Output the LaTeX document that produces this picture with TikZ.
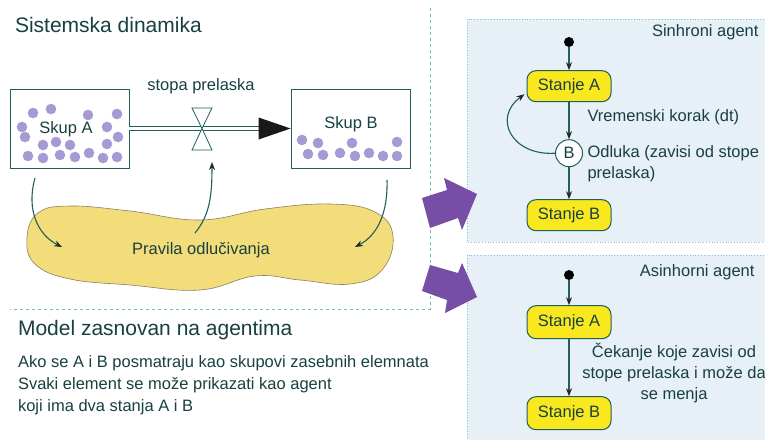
\documentclass[tikz,border=0pt]{standalone}
\usepackage{fontspec}
\setmainfont{Liberation Sans}
\usetikzlibrary{shapes,arrows.meta,positioning,calc}
\definecolor{inkteal}{RGB}{24,64,64}
\definecolor{lineteal}{RGB}{32,95,92}
\definecolor{dotlilac}{RGB}{165,154,212}
\definecolor{blobyellow}{RGB}{243,220,122}
\definecolor{blobedge}{RGB}{140,128,95}
\definecolor{stateyellow}{RGB}{250,232,30}
\definecolor{panelblue}{RGB}{231,239,247}
\definecolor{paneledge}{RGB}{125,200,215}
\definecolor{arrowpurple}{RGB}{118,78,165}
\definecolor{dividerteal}{RGB}{110,190,200}

\begin{document}
\begin{tikzpicture}[
    x=1pt, y=-1pt,
    every node/.style={text=inkteal, font=\fontsize{16.5}{21}\selectfont},
    heading/.style={font=\fontsize{21}{25}\selectfont, anchor=west},
    skup/.style={rectangle, draw=lineteal, line width=0.8pt, fill=white, minimum width=119pt, minimum height=79pt},
    ball/.style={fill=dotlilac},
    pipe/.style={draw=lineteal, double=white, double distance=2.8pt, line width=0.8pt},
    valve/.style={draw=lineteal, fill=white, line width=0.8pt},
    blob/.style={fill=blobyellow, draw=blobedge, line width=0.6pt},
    arrow/.style={->, >={Stealth[length=8pt, width=6pt, color=black!85]}, draw=lineteal, line width=1.1pt},
    panel/.style={fill=panelblue, draw=paneledge, dotted, line width=0.8pt},
    stanje/.style={rectangle, rounded corners=9pt, draw=lineteal, fill=stateyellow, line width=1pt, minimum width=84pt, minimum height=31pt},
    initdot/.style={circle, fill=black, inner sep=0pt, minimum size=10pt},
    decision/.style={circle, draw=lineteal, fill=white, line width=1pt, minimum size=27pt, inner sep=0pt},
    bigarrow/.style={fill=arrowpurple},
    divider/.style={draw=dividerteal, dashed, line width=0.7pt}
]
    \useasboundingbox (0,0) rectangle (765,439);
    \clip (0,0) rectangle (765,439);

    % section borders
    \draw[divider] (430,8) -- (430,309) -- (10,309);
    \path[panel] (467,19) rectangle (780,242);
    \path[panel] (467,255) rectangle (780,450);

    % purple arrows
    \fill[bigarrow] (430,228) -- (422,198) -- (447,190) -- (444,178) -- (477,194) -- (462,230) -- (458,218) -- cycle;
    \fill[bigarrow] (430,265) -- (422,291) -- (447,300) -- (445,313) -- (477,297) -- (462,263) -- (458,273) -- cycle;

    % system dynamics
    \node[heading] (sd) at (11.5,25) {Sistemska dinamika};
    \node[skup] (skupA) at (69.5,128.5) {};
    \node[skup] (skupB) at (350.5,128.5) {};
    \foreach \x/\y in {33/113,51/109,88/115,117/114,22/127,107/127,25/137,43/145,56/142,70/145,107/144,118/137,28/156,43/158,60/155,75/157,89/153,103/158,117/157}
        \fill[ball] (\x,\y) circle (5.3pt);
    \foreach \x/\y in {302/140,318/143,352/143,397/142,308/154,323/155,340/153,355/156,369/153,383/156,397/156}
        \fill[ball] (\x,\y) circle (5.3pt);
    \node (lblA) at (66,129) {Skup A};
    \node (lblB) at (351,124) {Skup B};
    \node (stopa) at (201,86) {stopa prelaska};

    \coordinate (valve) at (202,128.5);
    \coordinate (tipbase) at ($(skupB.west)+(-32,0)$);
    \draw[pipe] (skupA.east) -- (tipbase);
    \fill[black!90] ($(tipbase)+(0,-11)$) -- (skupB.west) -- ($(tipbase)+(0,11)$) -- cycle;
    \draw[valve] ($(valve)+(-10,-20.5)$) -- ($(valve)+(10,-20.5)$) -- (valve) -- ($(valve)+(-10,21.5)$) -- ($(valve)+(10,21.5)$) -- (valve) -- cycle;

    \draw[blob] plot[smooth cycle, tension=0.7] coordinates {(27,238) (38,213) (70,206) (130,211) (200,220) (265,209) (330,204) (375,212) (393,236) (382,270) (350,284) (300,280) (255,276) (200,290) (130,285) (70,279) (35,264)};
    \node (pravila) at (201,250) {Pravila odlučivanja};

    \coordinate (fromA) at (35,178);
    \coordinate (intoL) at (62,247);
    \coordinate (fromRules) at (195,233);
    \coordinate (toValve) at (212,162);
    \coordinate (fromB) at (387,180);
    \coordinate (intoR) at (355,247);
    \draw[arrow] (fromA) .. controls (26,210) and (38,235) .. (intoL);
    \draw[arrow] (fromRules) .. controls (210,215) and (212,195) .. (toValve);
    \draw[arrow] (fromB) .. controls (388,212) and (378,235) .. (intoR);

    % agent based model
    \node[heading] (abm) at (14.5,330) {Model zasnovan na agentima};
    \node[anchor=west, align=left, font=\fontsize{16.5}{22}\selectfont] (opis) at (14.5,385) {Ako se A i B posmatraju kao skupovi zasebnih elemnata\\Svaki element se može prikazati kao agent\\koji ima dva stanja A i B};

    % synchronous agent
    \node[anchor=east] (sinTitle) at (762,32) {Sinhroni agent};
    \node[initdot] (s1) at (569,42) {};
    \node[stanje, below=23pt of s1] (stA1) {Stanje A};
    \node[decision, below=37pt of stA1] (odl) {B};
    \node[stanje, below=32pt of odl] (stB1) {Stanje B};
    \node[anchor=west] (korak) at (584,117) {Vremenski korak (dt)};
    \node[anchor=west, align=left] (odlTxt) at (584,164) {Odluka (zavisi od stope\\prelaska)};
    \draw[arrow] (s1) -- (stA1);
    \draw[arrow] (stA1) -- (odl);
    \draw[arrow] (odl) -- (stB1);
    \draw[arrow] (odl.west) .. controls (512,156) and (492,118) .. ($(stA1.west)+(-2,8)$);

    % asynchronous agent
    \node[anchor=east] (asinTitle) at (758,272) {Asinhorni agent};
    \node[initdot] (s2) at (569,275) {};
    \node[stanje, minimum height=33pt, below=25pt of s2] (stA2) {Stanje A};
    \node[stanje, minimum height=33pt, below=57pt of stA2] (stB2) {Stanje B};
    \node[align=center] (cekanje) at (674,373) {Čekanje koje zavisi od\\stope prelaska i može da\\se menja};
    \draw[arrow] (s2) -- (stA2);
    \draw[arrow] (stA2) -- (stB2);
\end{tikzpicture}
\end{document}
